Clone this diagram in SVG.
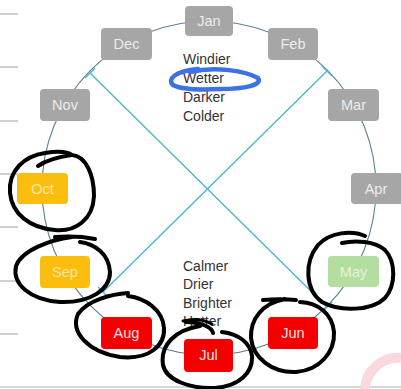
<svg xmlns="http://www.w3.org/2000/svg" width="401" height="389" viewBox="0 0 401 389">
<style>
.box{stroke:none}
.gray{fill:#a6a6a6}
.yel{fill:#fbbe0e}
.red{fill:#f40000}
.grn{fill:#b3dea0}
.lbl{font-family:"Liberation Sans",Arial,sans-serif;font-size:14.5px;text-anchor:middle}
.lg{fill:#ececec}
.ly{fill:#fde6a6}
.lr{fill:#ffe0e0}
.lgr{fill:#e4f3dc}
.body{font-family:"Liberation Sans",Arial,sans-serif;font-size:14px;fill:#333333}
.tick{stroke:#a0a0a0;stroke-width:1}
.diag{stroke:#4fb6c9;stroke-width:1.4;fill:none}
.ink{fill:none;stroke:#000;stroke-width:4;stroke-linecap:round;stroke-linejoin:round}
</style>
<rect width="401" height="389" fill="#ffffff"/>
<g id="margin-ticks">
<line class="tick" x1="0" y1="14" x2="18" y2="14"/>
<line class="tick" x1="0" y1="67" x2="18" y2="67"/>
<line class="tick" x1="0" y1="121" x2="18" y2="121"/>
<line class="tick" x1="0" y1="174" x2="18" y2="174"/>
<line class="tick" x1="0" y1="227" x2="18" y2="227"/>
<line class="tick" x1="0" y1="281" x2="18" y2="281"/>
<line class="tick" x1="0" y1="334" x2="18" y2="334"/>
<line x1="0" y1="387" x2="401" y2="387" stroke="#b0b0b0" stroke-width="1.2"/>
</g>
<path d="M 365,389 A 33,33 0 0 1 401,358" fill="none" stroke="#fbd7de" stroke-width="10"/>
<g id="connectors">
<circle cx="209" cy="188" r="167" fill="none" stroke="#5b7f96" stroke-width="1.1"/>
<line class="diag" x1="90" y1="73" x2="327" y2="307"/>
<line class="diag" x1="327" y1="71" x2="103" y2="292"/>
<line class="diag" x1="85" y1="78" x2="95" y2="68"/>
<line class="diag" x1="322" y1="312" x2="332" y2="302"/>
<line class="diag" x1="322" y1="66" x2="332" y2="76"/>
<line class="diag" x1="98" y1="287" x2="108" y2="297"/>
</g>
<g id="jan"><rect class="box gray" x="185" y="6" width="48" height="30" rx="4"/><text class="lbl lg" x="209" y="26">Jan</text></g>
<g id="feb"><rect class="box gray" x="268" y="28" width="50" height="32" rx="4"/><text class="lbl lg" x="293" y="49">Feb</text></g>
<g id="mar"><rect class="box gray" x="328" y="89" width="51" height="32" rx="4"/><text class="lbl lg" x="353.5" y="110">Mar</text></g>
<g id="apr"><rect class="box gray" x="351" y="173" width="52" height="31" rx="4"/><text class="lbl lg" x="376" y="194">Apr</text></g>
<g id="may"><rect class="box grn" x="328" y="256" width="51" height="31" rx="4"/><text class="lbl lgr" x="353.5" y="277">May</text></g>
<g id="jun"><rect class="box red" x="268" y="317" width="50" height="32" rx="4"/><text class="lbl lr" x="293" y="338">Jun</text></g>
<g id="jul"><rect class="box red" x="184" y="339" width="49" height="33" rx="4"/><text class="lbl lr" x="208.5" y="360">Jul</text></g>
<g id="aug"><rect class="box red" x="101" y="317" width="51" height="32" rx="4"/><text class="lbl lr" x="126.5" y="338">Aug</text></g>
<g id="sep"><rect class="box yel" x="40" y="256" width="50" height="32" rx="4"/><text class="lbl ly" x="65" y="277">Sep</text></g>
<g id="oct"><rect class="box yel" x="17" y="173" width="51" height="31" rx="4"/><text class="lbl ly" x="42.5" y="194">Oct</text></g>
<g id="nov"><rect class="box gray" x="40" y="89" width="50" height="32" rx="4"/><text class="lbl lg" x="65" y="110">Nov</text></g>
<g id="dec"><rect class="box gray" x="101" y="28" width="51" height="32" rx="4"/><text class="lbl lg" x="126.5" y="49">Dec</text></g>
<g id="winter-text">
<text class="body" x="183" y="64">Windier</text>
<text class="body" x="183" y="83">Wetter</text>
<text class="body" x="183" y="102">Darker</text>
<text class="body" x="183" y="121">Colder</text>
</g>
<g id="summer-text">
<text class="body" x="183" y="271">Calmer</text>
<text class="body" x="183" y="289">Drier</text>
<text class="body" x="183" y="308">Brighter</text>
<text class="body" x="183" y="326">Hotter</text>
</g>
<g id="annotations">
<path class="ink" d="M 38,166 C 50,158 65,156 72,155 C 86,156 94,175 94,196 C 93,220 75,232 55,230 C 30,228 12,214 10,193 C 8,170 25,156 45,153 C 58,151 68,152 72,155"/>
<path class="ink" d="M 55,237 C 70,236 85,237 95,239 M 72,237 C 50,240 22,250 16,266 C 12,284 30,300 60,302 C 90,303 110,290 110,272 C 109,254 95,244 80,242"/>
<path class="ink" d="M 128,293 C 112,294 88,300 78,314 C 70,332 88,352 120,357 C 150,360 165,345 164,328 C 163,310 145,298 128,296"/>
<path class="ink" d="M 186,322 C 200,322 212,327 213,333 M 200,326 C 175,330 160,345 163,365 C 166,380 190,389 215,388 C 240,386 253,372 252,356 C 250,342 238,334 222,332"/>
<path class="ink" d="M 263,300 C 275,299 285,299 296,300 M 285,299 C 262,303 250,320 251,338 C 253,358 272,373 296,372 C 320,370 335,352 334,332 C 332,313 318,303 300,302"/>
<path class="ink" d="M 342,243 C 355,240 375,241 385,250 C 396,262 396,285 385,298 C 372,311 340,312 322,302 C 305,290 304,262 318,245 C 330,232 352,230 365,236"/>
<path d="M 190,72 C 215,66 246,71 258,78 C 263,85 245,89 220,89 C 200,90 180,89 173,85 C 167,79 175,71 198,69" fill="none" stroke="#3d72e6" stroke-width="4.5" stroke-linecap="round"/>
<path d="M 183,321 C 195,318 205,320 212,324" fill="none" stroke="#000" stroke-width="3" stroke-linecap="round"/>
</g>
</svg>
